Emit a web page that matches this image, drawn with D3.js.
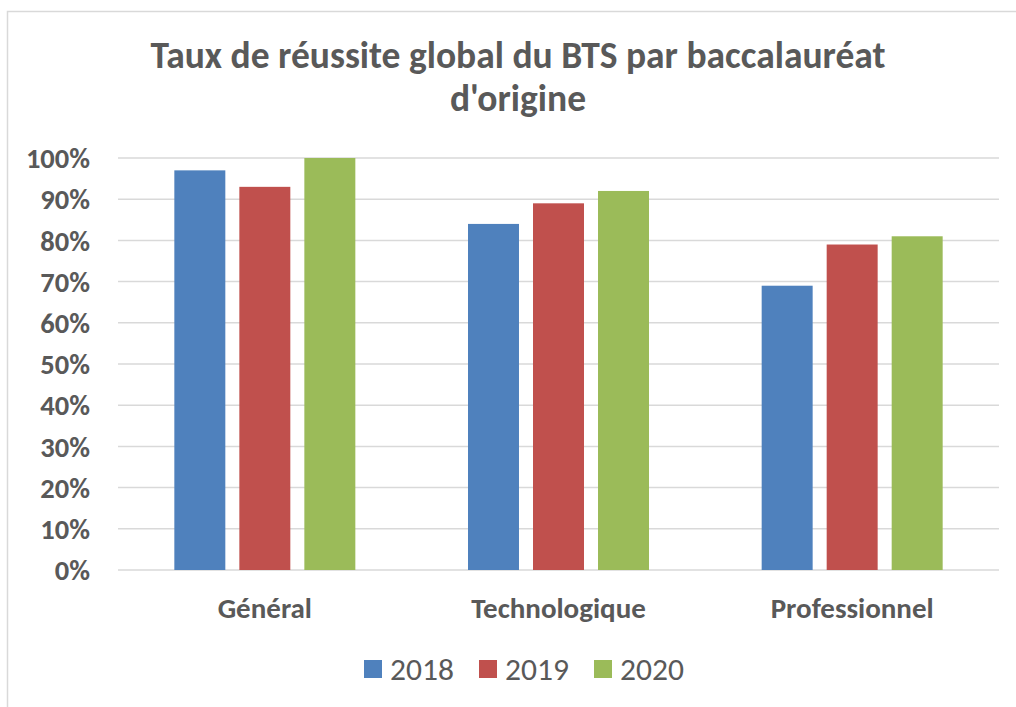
<!DOCTYPE html>
<html>
<head>
<meta charset="utf-8">
<script src="https://cdn.jsdelivr.net/npm/d3@7"></script>
<style>
  body { margin: 0; background: #fff; }
  svg { font-family: Calibri, Carlito, Lato, sans-serif; }
</style>
</head>
<body>
<div class="content"></div>
<script>
var categories = ["Général", "Technologique", "Professionnel"];
var series = ["2018", "2019", "2020"];
var colors = ["#4f81bd", "#c0504d", "#9bbb59"];
var values2018 = [97, 84, 69];
var values2019 = [93, 89, 79];
var values2020 = [100, 92, 81];
var yTicks = [0, 10, 20, 30, 40, 50, 60, 70, 80, 90, 100];
var titleLines = ["Taux de réussite global du BTS par baccalauréat", "d'origine"];

var allValues = [values2018, values2019, values2020];
var W = 1016, H = 707;
var plotLeft = 118, plotRight = 999, plotTop = 158, plotBottom = 570;

var svg = d3.select(".content").append("svg")
  .attr("width", W)
  .attr("height", H);

// chart border (only left/top visible in the crop)
svg.append("rect")
  .attr("x", 7.5).attr("y", 11.5)
  .attr("width", W + 20).attr("height", H + 20)
  .attr("fill", "none")
  .attr("stroke", "#d9d9d9")
  .attr("stroke-width", 1.5);

var x0 = d3.scaleBand().domain(categories).range([plotLeft, plotRight]);
var x1 = d3.scaleBand().domain(series).range([-90.5, 90.5]).paddingInner(0.2157);
var y = d3.scaleLinear().domain([0, 100]).range([plotBottom, plotTop]);

// gridlines
svg.selectAll("line.grid")
  .data(yTicks)
  .enter().append("line")
    .attr("class", "grid")
    .attr("x1", plotLeft).attr("x2", plotRight)
    .attr("y1", function(d) { return y(d); })
    .attr("y2", function(d) { return y(d); })
    .attr("stroke", "#d9d9d9")
    .attr("stroke-width", 1.5);

// y tick labels
svg.selectAll("text.ytick")
  .data(yTicks)
  .enter().append("text")
    .attr("class", "ytick")
    .text(function(d) { return d + "%"; })
    .attr("x", 90)
    .attr("y", function(d) { return y(d); })
    .attr("dy", "0.36em")
    .attr("text-anchor", "end")
    .attr("font-size", 28.5)
    .attr("font-weight", "bold")
    .attr("fill", "#595959");

// bars
var groups = svg.selectAll("g.series")
  .data(series)
  .enter().append("g")
    .attr("class", "series")
    .attr("fill", function(d, i) { return colors[i]; });

groups.selectAll("rect")
  .data(function(s, si) {
    return categories.map(function(c, ci) { return {cat: c, s: s, v: allValues[si][ci]}; });
  })
  .enter().append("rect")
    .attr("x", function(d) { return x0(d.cat) + x0.bandwidth() / 2 + x1(d.s); })
    .attr("width", x1.bandwidth())
    .attr("y", function(d) { return y(d.v); })
    .attr("height", function(d) { return y(0) - y(d.v); });

// category labels
svg.selectAll("text.cat")
  .data(categories)
  .enter().append("text")
    .attr("class", "cat")
    .text(function(d) { return d; })
    .attr("x", function(d) { return x0(d) + x0.bandwidth() / 2; })
    .attr("y", 608)
    .attr("dy", "0.36em")
    .attr("text-anchor", "middle")
    .attr("font-size", 29)
    .attr("font-weight", "bold")
    .attr("fill", "#595959");

// title
svg.selectAll("text.title")
  .data(titleLines)
  .enter().append("text")
    .attr("class", "title")
    .text(function(d) { return d; })
    .attr("x", 518)
    .attr("y", function(d, i) { return 68 + i * 43; })
    .attr("text-anchor", "middle")
    .attr("font-size", 37.5)
    .attr("font-weight", "bold")
    .attr("fill", "#595959");

// legend
var legendX = [364, 479, 594];
var legend = svg.selectAll("g.legend")
  .data(series)
  .enter().append("g")
    .attr("class", "legend")
    .attr("transform", function(d, i) { return "translate(" + legendX[i] + ",660)"; });

legend.append("rect")
  .attr("width", 18).attr("height", 18)
  .attr("fill", function(d, i) { return colors[i]; });

legend.append("text")
  .text(function(d) { return d; })
  .attr("x", 26)
  .attr("y", 9)
  .attr("dy", "0.36em")
  .attr("font-size", 31.5)
  .attr("fill", "#595959");
</script>
</body>
</html>
